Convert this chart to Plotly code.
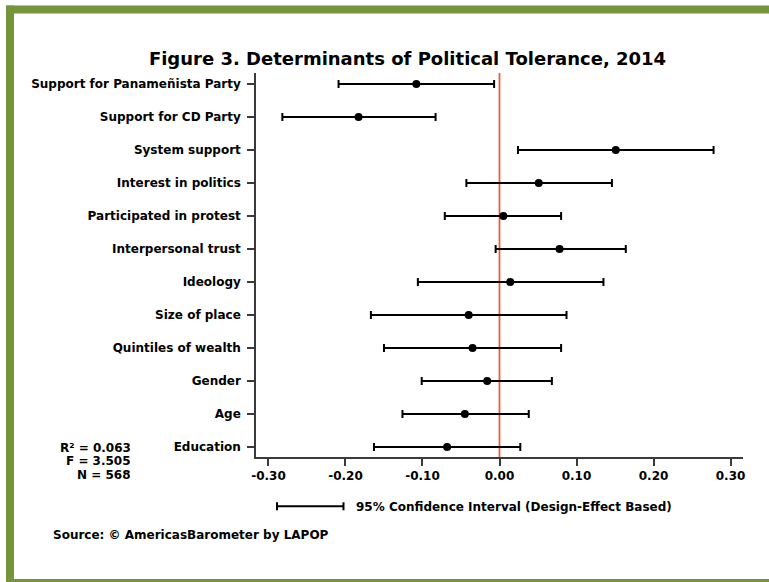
import plotly.graph_objects as go

# Regression coefficients with 95% confidence bounds (design-effect based)
variables = [
    "Support for Panameñista Party",
    "Support for CD Party",
    "System support",
    "Interest in politics",
    "Participated in protest",
    "Interpersonal trust",
    "Ideology",
    "Size of place",
    "Quintiles of wealth",
    "Gender",
    "Age",
    "Education",
]
coef = [-0.108, -0.183, 0.151, 0.051, 0.005, 0.078, 0.014, -0.040, -0.035, -0.016, -0.045, -0.068]
ci_low = [-0.209, -0.282, 0.024, -0.043, -0.071, -0.005, -0.106, -0.167, -0.150, -0.101, -0.126, -0.163]
ci_high = [-0.007, -0.083, 0.278, 0.146, 0.080, 0.164, 0.135, 0.087, 0.080, 0.068, 0.038, 0.027]

x_ticks = [-0.30, -0.20, -0.10, 0.00, 0.10, 0.20, 0.30]
x_ticktext = ["-0.30", "-0.20", "-0.10", "0.00", "0.10", "0.20", "0.30"]

stats = ["R² = 0.063", "F = 3.505", "N = 568"]
title_text = "Figure 3. Determinants of Political Tolerance, 2014"
legend_text = "95% Confidence Interval (Design-Effect Based)"
source_text = "Source: © AmericasBarometer by LAPOP"

W, H = 769, 582
L, R, T, B = 256, 26, 73, 125
PW, PH = W - L - R, H - T - B
FONT = "DejaVu Sans"
GREEN = "#77933C"


def px(x):
    return (x - L) / PW


def py(y):
    return (H - B - y) / PH


err_plus = [h - c for h, c in zip(ci_high, coef)]
err_minus = [c - l for c, l in zip(coef, ci_low)]

fig = go.Figure()
fig.add_trace(
    go.Scatter(
        x=coef,
        y=variables,
        mode="markers",
        marker=dict(color="black", size=8),
        error_x=dict(
            type="data",
            symmetric=False,
            array=err_plus,
            arrayminus=err_minus,
            color="black",
            thickness=2,
            width=4,
        ),
        showlegend=False,
        hoverinfo="skip",
    )
)

shapes = [
    # zero reference line
    dict(type="line", xref="x", yref="paper", x0=0, x1=0, y0=0, y1=1,
         line=dict(color="#E8603A", width=1.8), layer="below"),
    # green frame: top, left, bottom
    dict(type="rect", xref="paper", yref="paper", x0=px(6), x1=px(W + 2), y0=py(5.5), y1=py(13.5),
         fillcolor=GREEN, line=dict(width=0), layer="above"),
    dict(type="rect", xref="paper", yref="paper", x0=px(6), x1=px(14), y0=py(5.5), y1=py(H + 2),
         fillcolor=GREEN, line=dict(width=0), layer="above"),
    dict(type="rect", xref="paper", yref="paper", x0=px(6), x1=px(W + 2), y0=py(579), y1=py(H + 2),
         fillcolor=GREEN, line=dict(width=0), layer="above"),
    # confidence-interval key
    dict(type="line", xref="paper", yref="paper", x0=px(277), x1=px(343.5), y0=py(506.3), y1=py(506.3),
         line=dict(color="black", width=2)),
    dict(type="line", xref="paper", yref="paper", x0=px(277), x1=px(277), y0=py(502.3), y1=py(510.3),
         line=dict(color="black", width=2)),
    dict(type="line", xref="paper", yref="paper", x0=px(343.5), x1=px(343.5), y0=py(502.3), y1=py(510.3),
         line=dict(color="black", width=2)),
]

annotations = [
    dict(text=legend_text, xref="paper", yref="paper", x=px(354), y=py(506.5),
         xanchor="left", yanchor="middle", showarrow=False,
         font=dict(family=FONT, size=12, color="black", weight="bold")),
    dict(text=source_text, xref="paper", yref="paper", x=px(51), y=py(534.5),
         xanchor="left", yanchor="middle", showarrow=False,
         font=dict(family=FONT, size=12, color="black", weight="bold")),
]
for i, s in enumerate(stats):
    annotations.append(
        dict(text=s, xref="paper", yref="paper", x=px(133), y=py(447.5 + 13.6 * i),
             xanchor="right", yanchor="middle", showarrow=False,
             font=dict(family=FONT, size=12, color="black", weight="bold"))
    )

fig.update_layout(
    width=W,
    height=H,
    margin=dict(l=L, r=R, t=T, b=B),
    paper_bgcolor="white",
    plot_bgcolor="white",
    title=dict(
        text=title_text,
        xref="container", yref="container",
        x=407.5 / W, y=1 - 58.5 / H,
        xanchor="center", yanchor="middle",
        font=dict(family=FONT, size=18, color="black", weight="bold"),
    ),
    xaxis=dict(
        range=[-0.3162, 0.3162],
        tickvals=x_ticks,
        ticktext=x_ticktext,
        showgrid=False,
        zeroline=False,
        showline=True,
        linecolor="#3a3a3a",
        linewidth=1.5,
        ticks="outside",
        ticklen=7,
        tickwidth=1.5,
        tickcolor="#3a3a3a",
        tickfont=dict(family=FONT, size=12, color="black", weight="bold"),
    ),
    yaxis=dict(
        type="category",
        categoryorder="array",
        categoryarray=variables,
        range=[11.303, -0.333],
        showgrid=False,
        zeroline=False,
        showline=True,
        linecolor="#3a3a3a",
        linewidth=1.5,
        ticks="outside",
        ticklen=7,
        tickwidth=1.5,
        tickcolor="#3a3a3a",
        ticklabelstandoff=4,
        tickfont=dict(family=FONT, size=12, color="black", weight="bold"),
    ),
    shapes=shapes,
    annotations=annotations,
)

fig.write_html("out.html")
